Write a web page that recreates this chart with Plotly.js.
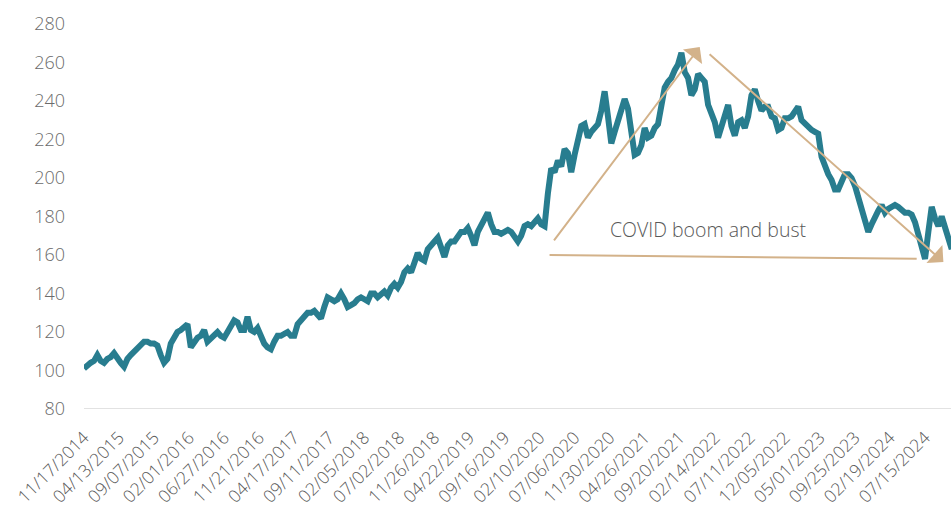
<!DOCTYPE html>
<html>
<head>
<meta charset="utf-8">
<script src="https://cdn.plot.ly/plotly-3.0.1.min.js"></script>
<style>html,body{margin:0;padding:0;background:#fff;}#chart{width:951px;height:510px;}</style>
</head>
<body>
<div id="chart"></div>
<script>
// Biweekly observations starting 2014-11-17
const startDate = '2014-11-17';
const stepDays = 14;
const values = [
101,103,104,105,108,105,104,106,107,109,
106,104,102,106,108,110,112,114,115,115,
114,114,113,108,104,106,114,117,120,121,
123,124,112,115,117,118,121,115,117,119,
120,118,117,120,123,126,125,121,121,128,
121,120,122,117,114,112,111,115,118,118,
119,120,118,118,124,126,128,130,130,131,
129,127,133,138,137,136,137,140,137,133,
134,135,137,138,137,136,140,140,138,140,
141,139,143,145,143,146,151,153,151,156,
161,158,157,163,165,167,169,164,159,165,
167,167,169,172,172,174,170,165,172,175,
179,182,176,172,172,171,172,173,172,170,
167,170,175,176,175,177,179,176,175,192,
205,203,209,206,215,213,203,212,220,227,
228,221,224,226,228,235,245,232,218,224,
229,236,241,236,224,212,213,217,226,221,
222,226,228,240,247,250,252,256,259,265,
255,252,243,246,254,252,250,238,233,229,
221,227,233,238,227,222,229,230,226,232,
243,246,240,235,237,237,232,231,225,226,
231,231,232,234,237,230,228,226,225,224,
223,211,206,202,199,194,194,199,202,202,
200,196,190,182,176,172,176,180,183,186,
182,184,185,186,185,183,182,182,181,177,
170,165,158,172,185,179,175,180,175,170,
163
];
const tickDates = ['2014-11-17','2015-04-13','2015-09-07','2016-02-01','2016-06-27','2016-11-21','2017-04-17','2017-09-11','2018-02-05','2018-07-02','2018-11-26','2019-04-22','2019-09-16','2020-02-10','2020-07-06','2020-11-30','2021-04-26','2021-09-20','2022-02-14','2022-07-11','2022-12-05','2023-05-01','2023-09-25','2024-02-19','2024-07-15'];
const tickLabels = ['11/17/2014','04/13/2015','09/07/2015','02/01/2016','06/27/2016','11/21/2016','04/17/2017','09/11/2017','02/05/2018','07/02/2018','11/26/2018','04/22/2019','09/16/2019','02/10/2020','07/06/2020','11/30/2020','04/26/2021','09/20/2021','02/14/2022','07/11/2022','12/05/2022','05/01/2023','09/25/2023','02/19/2024','07/15/2024'];
const yTicks = [80,100,120,140,160,180,200,220,240,260,280];
const annotationText = 'COVID boom and bust';

const dates = [];
const t0 = new Date(startDate + 'T00:00:00Z').getTime();
for (let i = 0; i < values.length; i++) {
  dates.push(new Date(t0 + i * stepDays * 86400000).toISOString().slice(0,10));
}

const lineColor = '#287D8F';
const arrowColor = '#D3B28A';
const fontFam = '"Open Sans", "Segoe UI", sans-serif';

const trace = {
  x: dates, y: values, type: 'scatter', mode: 'lines',
  line: {color: lineColor, width: 6, shape: 'linear'},
  hoverinfo: 'skip'
};

const layout = {
  width: 951, height: 510,
  margin: {l: 84, r: 0, t: 24, b: 101},
  paper_bgcolor: '#fff', plot_bgcolor: '#fff',
  showlegend: false,
  font: {family: fontFam, color: '#595959', weight: 300},
  xaxis: {
    type: 'date', range: ['2014-11-17', '2024-11-01'],
    tickvals: tickDates, ticktext: tickLabels, tickangle: -45,
    tickfont: {size: 17.5, color: '#595959', family: fontFam, weight: 300},
    showgrid: false, zeroline: false, showline: false, ticks: '',
    ticklabelstandoff: 14
  },
  yaxis: {
    range: [80, 280], tickvals: yTicks,
    tickfont: {size: 18, color: '#6b6b6b', family: fontFam, weight: 300},
    showgrid: false, zeroline: false, showline: false, ticks: '',
    ticklabelstandoff: 18
  },
  shapes: [
    {type: 'line', xref: 'paper', yref: 'y', x0: 0, x1: 1, y0: 80, y1: 80,
     line: {color: '#d9d9d9', width: 1.5}, layer: 'below'},
    {type: 'line', xref: 'x', yref: 'y', x0: '2020-03-23', y0: 160, x1: '2024-06-10', y1: 158,
     line: {color: arrowColor, width: 2}}
  ],
  annotations: [
    {xref: 'x', yref: 'y', axref: 'x', ayref: 'y',
     x: '2021-12-13', y: 268, ax: '2020-04-06', ay: 166.8,
     showarrow: true, arrowhead: 1, arrowsize: 2, arrowwidth: 2, arrowcolor: arrowColor,
     standoff: 0, startstandoff: 0, text: ''},
    {xref: 'x', yref: 'y', axref: 'x', ayref: 'y',
     x: '2024-09-30', y: 156.4, ax: '2022-01-17', ay: 265,
     showarrow: true, arrowhead: 1, arrowsize: 2, arrowwidth: 2, arrowcolor: arrowColor,
     standoff: 0, startstandoff: 0, text: ''},
    {xref: 'x', yref: 'y', x: '2022-01-17', y: 173.5, text: annotationText,
     showarrow: false, xanchor: 'center', yanchor: 'middle',
     font: {size: 19.5, color: '#595959', family: fontFam, weight: 300}}
  ]
};

Plotly.newPlot('chart', [trace], layout, {staticPlot: true, displayModeBar: false});
</script>
</body>
</html>
